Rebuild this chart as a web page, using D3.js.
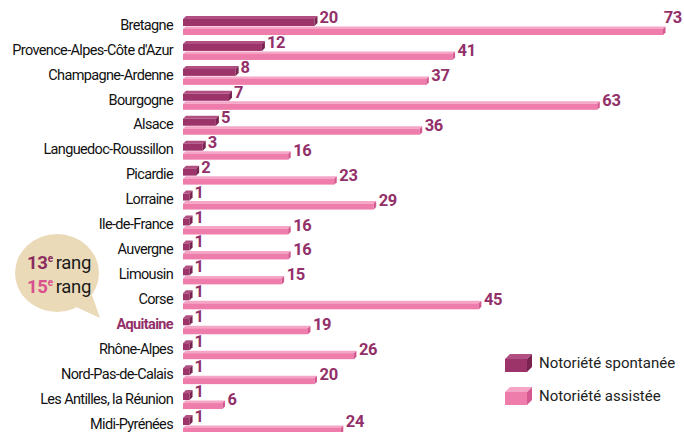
<!DOCTYPE html>
<html>
<head>
<meta charset="utf-8">
<script src="https://cdn.jsdelivr.net/npm/d3@7"></script>
<style>
  body { margin: 0; background: #fff; }
  svg { display: block; font-family: Roboto, "Liberation Sans", sans-serif; }
</style>
</head>
<body>
<svg id="vis" width="684" height="432"></svg>
<script>
// data
const regions = ["Bretagne", "Provence-Alpes-Côte d'Azur", "Champagne-Ardenne", "Bourgogne",
    "Alsace", "Languedoc-Roussillon", "Picardie", "Lorraine", "Ile-de-France", "Auvergne",
    "Limousin", "Corse", "Aquitaine", "Rhône-Alpes", "Nord-Pas-de-Calais",
    "Les Antilles, la Réunion", "Midi-Pyrénées"];
const spontanee = [20, 12, 8, 7, 5, 3, 2, 1, 1, 1, 1, 1, 1, 1, 1, 1, 1];
const assistee = [73, 41, 37, 63, 36, 16, 23, 29, 16, 16, 15, 45, 19, 26, 20, 6, 24];
const seriesNames = ["Notoriété spontanée", "Notoriété assistée"];
const highlight = "Aquitaine";

const WIDTH = 684, HEIGHT = 432;
const COLORS = {
    dark: {front: "#9c346a", top: "#b14f83", side: "#7a2350"},
    pink: {front: "#ee7dab", top: "#f5a6c7", side: "#d45990"}
};
const LABEL_COLOR = "#93306a";

const svg = d3.select("#vis");

// scales
const xScale = d3.scaleLinear().domain([0, 73]).range([183, 663]);
const yScale = d3.scalePoint().domain(regions).range([24, 423]);

/**
 * draws a small 3d bar: front face, top face and right side
 */
function bar3d(g, x0, x1, yTop, depth, frontH, col){
    g.append("polygon")
        .attr("points", [[x0, yTop + depth], [x0 + depth, yTop], [x1 + depth, yTop], [x1, yTop + depth]].join(" "))
        .attr("fill", col.top);
    g.append("rect")
        .attr("x", x0).attr("y", yTop + depth)
        .attr("width", x1 - x0).attr("height", frontH)
        .attr("fill", col.front);
    g.append("polygon")
        .attr("points", [[x1, yTop + depth], [x1 + depth, yTop], [x1 + depth, yTop + frontH], [x1, yTop + depth + frontH]].join(" "))
        .attr("fill", col.side);
}

// category labels through a left axis with no lines
const yAxis = d3.axisLeft(yScale).tickSize(0).tickPadding(10);
const axisG = svg.append("g")
    .attr("transform", `translate(${xScale(0)},0)`)
    .call(yAxis);
axisG.select(".domain").remove();
axisG.selectAll("text")
    .attr("font-family", "Roboto, sans-serif")
    .attr("font-size", 14.5)
    .attr("letter-spacing", -0.65)
    .attr("dy", "0.36em")
    .attr("fill", d => d === highlight ? "#93306a" : "#111")
    .attr("font-weight", d => d === highlight ? "bold" : "normal");

// bars
const rows = svg.append("g").selectAll("g")
    .data(regions)
    .enter()
    .append("g");

rows.each(function(d, i){
    const g = d3.select(this);
    const c = yScale(d);
    const x0 = xScale(0);
    const xs = xScale(spontanee[i]);
    const xa = xScale(assistee[i]);

    bar3d(g, x0, xs, c - 8, 3, 7, COLORS.dark);
    bar3d(g, x0, xa, c + 2.5, 2.5, 6, COLORS.pink);

    g.append("text")
        .attr("x", xs + 5)
        .attr("y", c - 1)
        .attr("font-size", 16.5)
        .attr("font-weight", "bold")
        .attr("letter-spacing", -0.3)
        .attr("fill", LABEL_COLOR)
        .text(spontanee[i]);
    const lab = g.append("text")
        .attr("x", xa + 5)
        .attr("y", Math.min(c + 7, HEIGHT - 5))   // keep the last one inside the picture
        .attr("font-size", 16.5)
        .attr("font-weight", "bold")
        .attr("letter-spacing", -0.3)
        .attr("fill", LABEL_COLOR)
        .text(assistee[i]);
    // no room on the right: put the label above the end of the bar
    if (xa + 5 + lab.node().getComputedTextLength() > WIDTH - 1) {
        lab.attr("x", WIDTH - 2).attr("y", c - 1).attr("text-anchor", "end");
    }
});

// legend
const legend = svg.append("g").attr("transform", "translate(505,354)");
[COLORS.dark, COLORS.pink].forEach(function(col, i){
    const lg = legend.append("g").attr("transform", `translate(0, ${i * 33})`);
    bar3d(lg, 0, 22, 0, 5, 13, col);
    lg.append("text")
        .attr("x", 34)
        .attr("y", 14)
        .attr("font-size", 15)
        .attr("fill", "#222")
        .text(seriesNames[i]);
});

// rank bubble
const bubble = svg.append("g");
bubble.append("path")
    .attr("d", "M74,306 L100,318 L92,295 Z")
    .attr("fill", "#ebdab8");
bubble.append("ellipse")
    .attr("cx", 57).attr("cy", 273)
    .attr("rx", 42).attr("ry", 39)
    .attr("fill", "#ebdab8");

const ranks = [
    {num: "13", color: "#8c2c5e", y: 269},
    {num: "15", color: "#d9508f", y: 293}
];
ranks.forEach(function(r){
    const t = bubble.append("text")
        .attr("x", 27)
        .attr("y", r.y)
        .attr("font-size", 18.5)
        .attr("letter-spacing", -0.3);
    t.append("tspan").attr("font-weight", "bold").attr("fill", r.color).text(r.num);
    t.append("tspan").attr("font-weight", "bold").attr("fill", r.color)
        .attr("font-size", 10).attr("dy", -7).text("e");
    t.append("tspan").attr("fill", "#1a1a1a").attr("dy", 7).attr("dx", 3).text("rang");
});
</script>
</body>
</html>
